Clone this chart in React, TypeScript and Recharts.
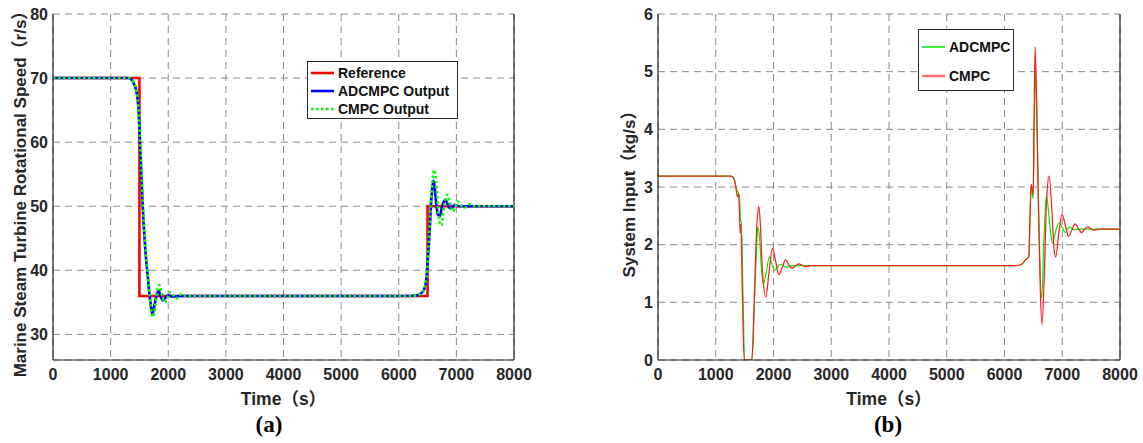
import React from "react";
import {
	LineChart,
	Line,
	XAxis,
	YAxis,
	CartesianGrid,
	ReferenceLine,
} from "recharts";

// time axis, shared by both panels
const timeTicks = [0, 1000, 2000, 3000, 4000, 5000, 6000, 7000, 8000];
const speedTicks = [30, 40, 50, 60, 70, 80];
const inputTicks = [0, 1, 2, 3, 4, 5, 6];

// (a) rotational speed
const refTime = [0, 1500, 1500, 6500, 6500, 8000];
const refSpeed = [70, 70, 36, 36, 50, 50];

const adcTime = [
	0, 1300, 1340, 1400, 1450, 1480, 1510, 1557, 1600, 1630, 1660, 1690, 1724, 1760, 1800, 1835,
	1870, 1900, 1950, 2000, 2080, 2200, 6200, 6300, 6350, 6400, 6433, 6470, 6491, 6515, 6537, 6558,
	6578, 6600, 6625, 6655, 6685, 6711, 6745, 6780, 6810, 6845, 6875, 6907, 6945, 6980, 7050, 8000,
];
const adcSpeed = [
	70, 70, 69.9, 69.2, 67.8, 65.6, 60, 50, 43.5, 40.3, 37.5, 35, 33.2, 34.5, 36.2, 36.8,
	35.9, 35.3, 35.7, 36.1, 35.9, 36, 36, 36.05, 36.2, 36.5, 36.9, 38, 40, 43, 46.3, 50,
	52.5, 54, 52.8, 50, 48.6, 48.4, 49.7, 50.7, 51, 50.4, 49.8, 49.6, 50, 50.2, 50, 50,
];

const cmpcTime = [
	0, 1300, 1340, 1400, 1450, 1480, 1510, 1557, 1600, 1630, 1660, 1695, 1735, 1775, 1810, 1845,
	1880, 1910, 1940, 1990, 2040, 2090, 2135, 2180, 2230, 2300, 6200, 6300, 6350, 6400, 6433, 6470,
	6491, 6515, 6537, 6560, 6585, 6615, 6645, 6680, 6710, 6740, 6775, 6810, 6840, 6880, 6930, 6975,
	7020, 7060, 7100, 7150, 7220, 7300, 8000,
];
const cmpcSpeed = [
	70, 70, 69.9, 69.3, 68, 65.8, 60.5, 51, 44, 40.8, 37.6, 34.5, 32.7, 34.6, 37, 37.7,
	36.6, 35.4, 35.0, 35.8, 36.6, 36.1, 35.6, 35.9, 36.3, 36, 36, 36.05, 36.2, 36.5, 36.9, 38,
	40, 43.5, 47, 51, 54, 55.7, 54, 50, 47.5, 47, 49.2, 51.2, 51.8, 50.8, 49.2, 49.6,
	50.7, 50.5, 49.9, 49.8, 50.3, 50, 50,
];

// (b) system input
const adcInTime = [
	0, 1250, 1300, 1330, 1360, 1390, 1410, 1430, 1445, 1470, 1500, 1625, 1650, 1680, 1710, 1730,
	1760, 1790, 1827, 1870, 1931, 1975, 2018, 2065, 2116, 2170, 2230, 2330, 6200, 6300, 6362, 6420,
	6440, 6461, 6480, 6496, 6515, 6540, 6570, 6600, 6645, 6680, 6726, 6770, 6800, 6830, 6890, 6946,
	7000, 7050, 7120, 7200, 7300, 8000,
];
const adcInput = [
	3.19, 3.19, 3.17, 3.1, 2.95, 2.9, 2.85, 2.4, 2.4, 1.2, 0, 0, 0.4, 1.3, 2.0, 2.31,
	2.1, 1.6, 1.32, 1.5, 1.79, 1.65, 1.56, 1.6, 1.66, 1.63, 1.61, 1.637, 1.637, 1.66, 1.735, 1.79,
	2.4, 3.0, 2.9, 2.8, 4.0, 5.05, 3.8, 2.2, 1.07, 2.0, 2.86, 2.5, 2.2, 2.02, 2.25, 2.38,
	2.3, 2.21, 2.31, 2.26, 2.27, 2.27,
];

const cmpcInTime = [
	0, 1250, 1300, 1330, 1355, 1375, 1395, 1410, 1423, 1435, 1460, 1492, 1625, 1650, 1680, 1710,
	1747, 1775, 1810, 1868, 1920, 1983, 2040, 2093, 2150, 2208, 2265, 2324, 2380, 2440, 2500, 2550,
	2650, 6200, 6300, 6362, 6420, 6440, 6461, 6480, 6496, 6512, 6530, 6555, 6590, 6620, 6650, 6690,
	6730, 6773, 6820, 6860, 6888, 6940, 6998, 7050, 7108, 7165, 7224, 7280, 7334, 7390, 7443, 7500,
	7547, 7650, 8000,
];
const cmpcInput = [
	3.19, 3.19, 3.17, 3.1, 2.95, 2.83, 2.88, 2.6, 2.2, 2.35, 1.2, 0, 0, 0.5, 1.5, 2.3,
	2.66, 2.3, 1.5, 1.09, 1.5, 1.94, 1.7, 1.48, 1.6, 1.735, 1.65, 1.59, 1.63, 1.666, 1.64, 1.62,
	1.637, 1.637, 1.66, 1.735, 1.79, 2.4, 3.05, 2.95, 2.86, 4.2, 5.43, 4.5, 2.5, 1.2, 0.61, 1.5,
	2.8, 3.19, 2.6, 1.9, 1.79, 2.2, 2.53, 2.35, 2.14, 2.25, 2.36, 2.28, 2.21, 2.27, 2.31, 2.27,
	2.25, 2.27, 2.27,
];

const zip = (t: number[], v: number[]) => t.map((x, i) => ({ t: x, v: v[i] }));

const FONT = "'Liberation Sans', Arial, 'Noto Sans CJK SC', sans-serif";
const INK = "#262626";
const tickStyle = { fontSize: 16, fontWeight: 700, fill: INK, fontFamily: FONT };
const titleStyle = { fontSize: 17.5, fontWeight: 700, fill: INK, fontFamily: FONT, textAnchor: "middle" as const };

// rotated y title, centred a little below the plot middle like the original
const yTitleRenderer = (text: string, dx: number) => (props: any) => {
	const vb = props.viewBox || { x: 0 };
	const cx = vb.x + dx;
	const cy = 190;
	return (
		<text
			x={cx}
			y={cy}
			transform={`rotate(-90 ${cx} ${cy})`}
			textAnchor="middle"
			dominantBaseline="central"
			style={{ fontSize: 17, fontWeight: 700, fill: INK, fontFamily: FONT }}
		>
			{text}
		</text>
	);
};

function Panel({
	width,
	yWidth,
	marginRight,
	yDomain,
	yTicks,
	yTitle,
	yTitleOffset,
	children,
}: {
	width: number;
	yWidth: number;
	marginRight: number;
	yDomain: [number, number];
	yTicks: number[];
	yTitle: string;
	yTitleOffset: number;
	children: React.ReactNode;
}) {
	return (
		<LineChart width={width} height={443} margin={{ top: 14, right: marginRight, bottom: 0, left: 0 }}>
			<CartesianGrid stroke="#8a8a8a" strokeDasharray="7 5" strokeWidth={1} />
			<XAxis
				dataKey="t"
				type="number"
				domain={[0, 8000]}
				ticks={timeTicks}
				allowDataOverflow
				height={83}
				tickLine={false}
				tickSize={6}
				tickMargin={3}
				axisLine={{ stroke: INK, strokeWidth: 1.2 }}
				tick={tickStyle}
				label={{ value: "Time（s）", position: "insideBottom", offset: 38, style: titleStyle }}
			/>
			<YAxis
				type="number"
				domain={yDomain}
				ticks={yTicks}
				allowDataOverflow
				width={yWidth}
				tickLine={false}
				tickSize={3}
				tickMargin={2}
				axisLine={{ stroke: INK, strokeWidth: 1.2 }}
				tick={tickStyle}
				label={{ content: yTitleRenderer(yTitle, yTitleOffset) }}
			/>
			<ReferenceLine x={8000} stroke={INK} strokeWidth={1.2} />
			{children}
		</LineChart>
	);
}

const legendBox: React.CSSProperties = {
	position: "absolute",
	border: `1px solid ${INK}`,
	background: "#fff",
	boxSizing: "border-box",
	fontFamily: FONT,
	fontWeight: 700,
	fontSize: 14,
	color: "#111",
};

function LegendRow({ top, label, sample }: { top: number; label: string; sample: React.ReactNode }) {
	return (
		<div style={{ position: "absolute", left: 2, top, height: 18, display: "flex", alignItems: "center", whiteSpace: "nowrap" }}>
			<svg width={25} height={8} style={{ marginRight: 3 }}>
				{sample}
			</svg>
			<span>{label}</span>
		</div>
	);
}

export default function App() {
	return (
		<div style={{ position: "absolute", left: 0, top: 0, width: 1143, height: 443, background: "#fff", overflow: "hidden" }}>
			<div style={{ position: "absolute", left: 0, top: 0 }}>
				<Panel
					width={560}
					yWidth={53}
					marginRight={46}
					yDomain={[26, 80]}
					yTicks={speedTicks}
					yTitle="Marine Steam Turbine Rotational Speed（r/s）"
					yTitleOffset={20}
				>
					<Line data={zip(refTime, refSpeed)} dataKey="v" type="linear" stroke="#ff0000" strokeWidth={2.6} dot={false} isAnimationActive={false} />
					<Line data={zip(adcTime, adcSpeed)} dataKey="v" type="monotone" stroke="#0000ff" strokeWidth={2.6} dot={false} isAnimationActive={false} />
					<Line data={zip(cmpcTime, cmpcSpeed)} dataKey="v" type="monotone" stroke="#00ff00" strokeWidth={2.6} strokeDasharray="2.5 2.5" dot={false} isAnimationActive={false} />
				</Panel>
			</div>
			<div style={{ position: "absolute", left: 560, top: 0 }}>
				<Panel
					width={583}
					yWidth={98}
					marginRight={23}
					yDomain={[0, 6]}
					yTicks={inputTicks}
					yTitle="System Input（kg/s）"
					yTitleOffset={69}
				>
					<Line data={zip(adcInTime, adcInput)} dataKey="v" type="monotone" stroke="#00ee00" strokeWidth={1.2} dot={false} isAnimationActive={false} />
					<Line data={zip(cmpcInTime, cmpcInput)} dataKey="v" type="monotone" stroke="#ff1a1a" strokeWidth={1.2} dot={false} isAnimationActive={false} />
				</Panel>
			</div>

			<div style={{ ...legendBox, left: 307, top: 61, width: 151, height: 58 }}>
				<LegendRow top={2} label="Reference" sample={<line x1={1} x2={24} y1={4} y2={4} stroke="#ff0000" strokeWidth={2.6} />} />
				<LegendRow top={20} label="ADCMPC Output" sample={<line x1={1} x2={24} y1={4} y2={4} stroke="#0000ff" strokeWidth={2.6} />} />
				<LegendRow top={38} label="CMPC Output" sample={<line x1={1} x2={24} y1={4} y2={4} stroke="#00ff00" strokeWidth={2.6} strokeDasharray="2.5 2.5" />} />
			</div>
			<div style={{ ...legendBox, left: 918, top: 29, width: 96, height: 62 }}>
				<LegendRow top={8} label="ADCMPC" sample={<line x1={1} x2={24} y1={4} y2={4} stroke="#00ee00" strokeWidth={1.5} />} />
				<LegendRow top={37} label="CMPC" sample={<line x1={1} x2={24} y1={4} y2={4} stroke="#ff7070" strokeWidth={2.5} />} />
			</div>

			<div style={{ position: "absolute", left: 239, top: 411, width: 60, textAlign: "center", fontFamily: "'Liberation Serif', 'Times New Roman', serif", fontWeight: 700, fontSize: 23, lineHeight: "28px", color: "#000" }}>
				(a)
			</div>
			<div style={{ position: "absolute", left: 858, top: 411, width: 60, textAlign: "center", fontFamily: "'Liberation Serif', 'Times New Roman', serif", fontWeight: 700, fontSize: 23, lineHeight: "28px", color: "#000" }}>
				(b)
			</div>
		</div>
	);
}
